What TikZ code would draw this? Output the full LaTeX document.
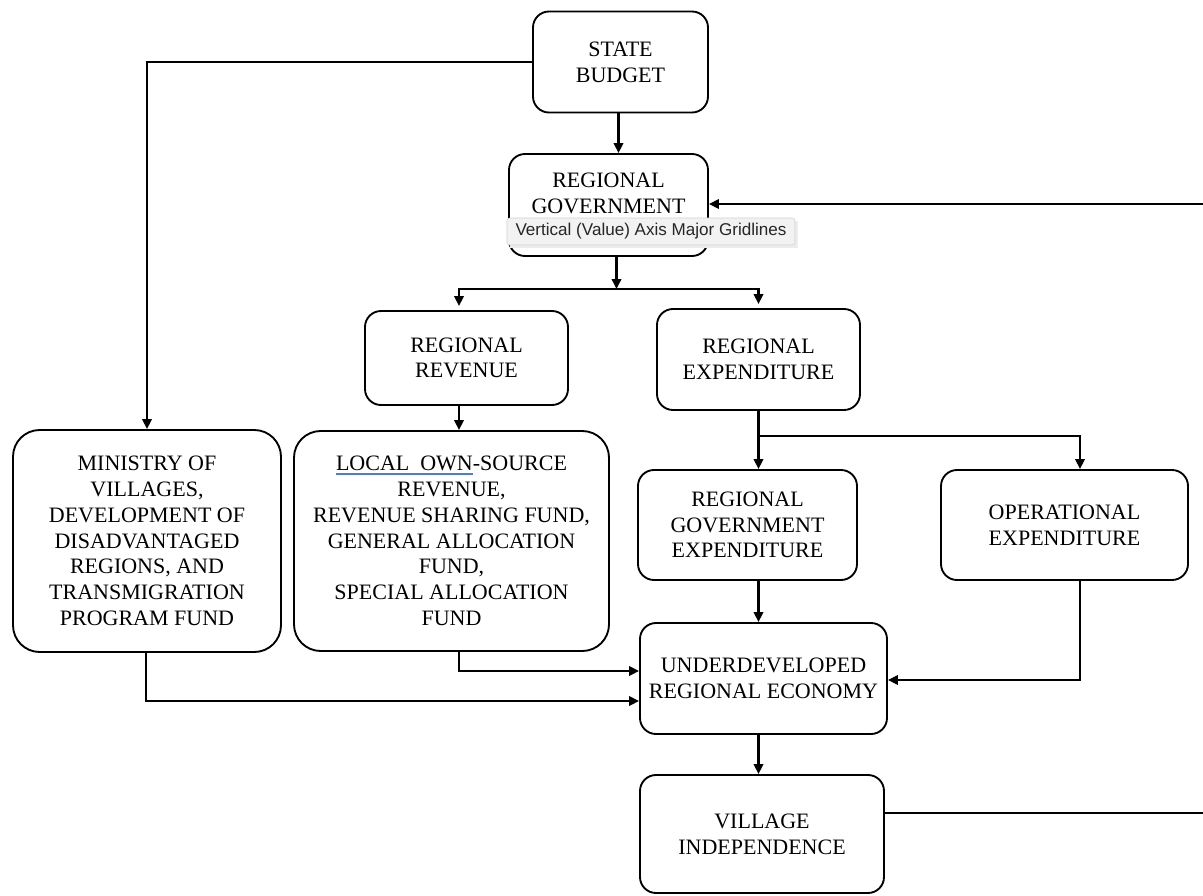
\documentclass[tikz,border=0pt]{standalone}
\usepackage{fontspec}
\setmainfont{Liberation Serif}
\newfontfamily\tipfont{Liberation Sans}
\usetikzlibrary{arrows.meta,calc}
\definecolor{ulblue}{RGB}{80,120,225}
\newcommand\blueul[1]{\setbox0\hbox{#1}\rlap{\textcolor{ulblue}{\rule[-3.2pt]{\wd0}{1.4pt}}}\box0}
\begin{document}
\begin{tikzpicture}[x=0.75pt,y=-0.75pt,
  sz/.style 2 args={minimum width={#1*0.75pt}, minimum height={#2*0.75pt}},
  box/.style={draw, line width=1.4pt, rounded corners=12pt, align=center, inner sep=0pt,
              font=\fontsize{16.5}{19.3}\selectfont},
  txt/.style={align=center, inner sep=0pt, font=\fontsize{16.5}{19.3}\selectfont},
  conn/.style={line width=1.9pt},
  arr/.style={conn, -{Triangle[length=7.5pt,width=7pt]}}]
\fill[white] (0,0) rectangle (1203,896);
\useasboundingbox (0,0) rectangle (1203,896);

% boxes
\node[box, sz={175}{101}] (sb) at (620.5,62) {STATE\\BUDGET};
\node[box, sz={199}{102}] (rg) at (608.5,205) {};
\node[txt] (rgt) at (608.5,193.5) {REGIONAL\\GOVERNMENT};
\node[box, sz={203}{94}] (rr) at (466.5,358) {REGIONAL\\REVENUE};
\node[box, sz={203}{101}] (re) at (758.5,359.5) {REGIONAL\\EXPENDITURE};
\node[box, rounded corners=20pt, sz={268}{222}] (min) at (147,541)
  {MINISTRY OF\\VILLAGES,\\DEVELOPMENT OF\\DISADVANTAGED\\REGIONS, AND\\TRANSMIGRATION\\PROGRAM FUND};
\node[box, rounded corners=20pt, sz={315}{220}] (loc) at (451.5,541)
  {\blueul{LOCAL\ \ OWN}-SOURCE\\REVENUE,\\REVENUE SHARING FUND,\\GENERAL ALLOCATION\\FUND,\\SPECIAL ALLOCATION\\FUND};
\node[box, sz={219}{110}] (rge) at (747.5,525) {REGIONAL\\GOVERNMENT\\EXPENDITURE};
\node[box, sz={247}{110}] (op) at (1064.5,525) {OPERATIONAL\\EXPENDITURE};
\node[box, sz={247}{111}] (ud) at (763.5,678.5) {UNDERDEVELOPED\\REGIONAL ECONOMY};
\node[box, sz={244}{118}] (vi) at (762,834) {VILLAGE\\INDEPENDENCE};

% tooltip overlay
\fill[black!7] (510,221) rectangle (798,248);
\node[draw=black!18, fill=black!5, rounded corners=2pt, sz={288}{27}, inner sep=0pt,
      font=\tipfont\fontsize{12.8}{14}\selectfont, text=black!85] (tip) at (651,231.5)
  {Vertical (Value) Axis Major Gridlines};

% junctions and free ends
\coordinate (j1) at (616.5,289);
\coordinate (j2) at (758.5,436);
\coordinate (rin) at (1203,204);
\coordinate (vout) at (1203,813);

% connectors
\draw[arr] ($(sb.south)+(-2,0)$) -- ($(rg.north)+(10,0)$);
\draw[arr] (sb.west) -| (min.north);
\draw[arr] ($(rg.south)+(8,0)$) -- (j1);
\draw[arr] (j1) -| ($(rr.north)+(-7.5,-4)$);
\draw[arr] (j1) -| ($(re.north)+(0,-4)$);
\draw[arr] ($(rr.south)+(-7.5,0)$) -- ($(loc.north)+(7.5,0)$);
\draw[conn] (re.south) -- (j2);
\draw[arr] (j2) -- ($(rge.north)+(11,0)$);
\draw[arr] (j2) -| ($(op.north)+(15.5,0)$);
\draw[arr] ($(rge.south)+(11,0)$) -- ($(ud.north)+(-5,0)$);
\draw[arr] ($(op.south)+(15.5,0)$) |- ($(ud.east)+(0,1.5)$);
\draw[arr] ($(loc.south)+(7.5,0)$) |- ($(ud.west)+(0,-7.5)$);
\draw[arr] ($(min.south)+(-1,0)$) |- ($(ud.west)+(0,22.5)$);
\draw[arr] ($(ud.south)+(-5,0)$) -- ($(vi.north)+(-3.5,0)$);
\draw[conn] ($(vi.east)+(0,-21)$) -- (vout);
\draw[arr] (rin) -- ($(rg.east)+(0,-1)$);
\end{tikzpicture}
\end{document}
